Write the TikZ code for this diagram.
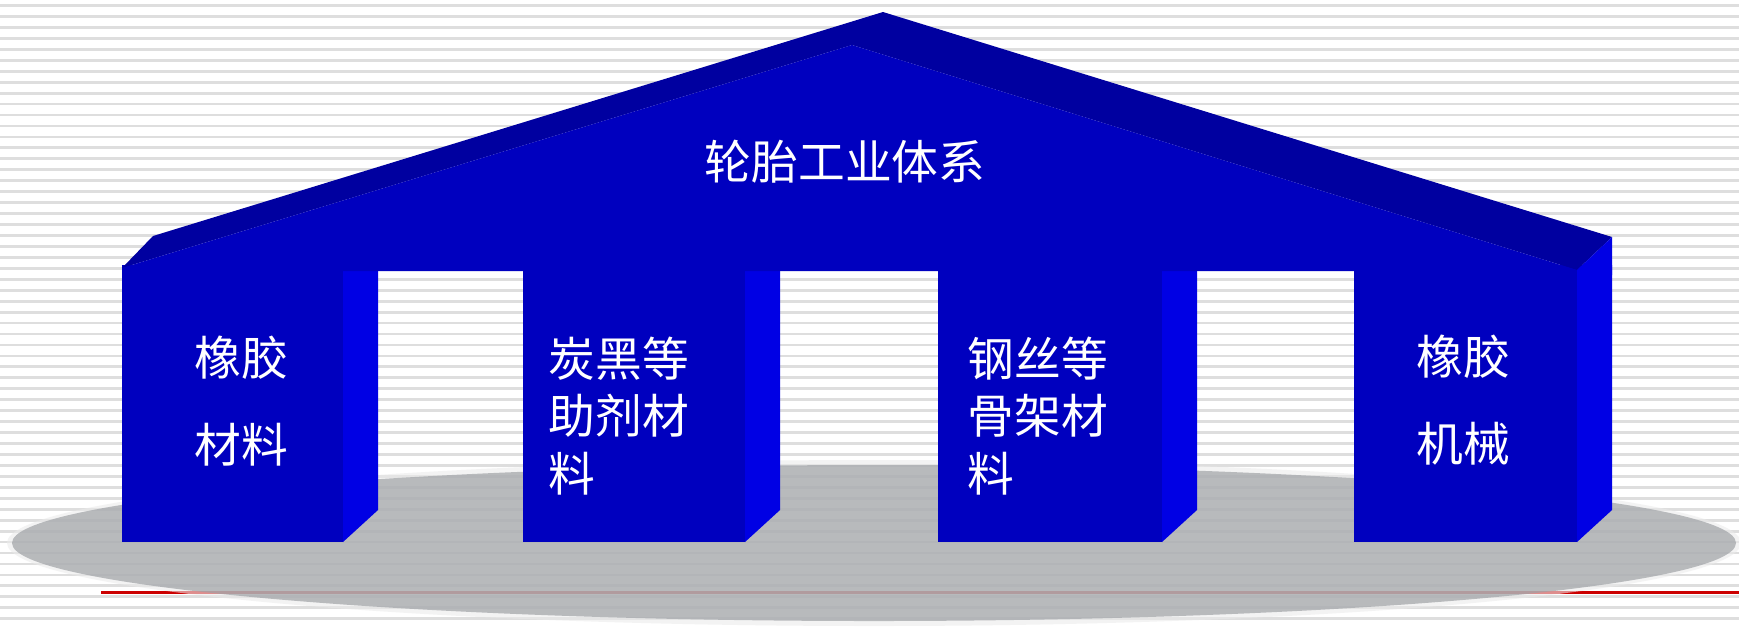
\documentclass[tikz,border=0pt]{standalone}
\usepackage{fontspec}
\newfontfamily\cjkfont{Noto Sans CJK SC}
\usepackage{tikz}
\usetikzlibrary{calc, positioning}

\definecolor{frontblue}{RGB}{0,0,191}
\definecolor{topblue}{RGB}{0,0,160}
\definecolor{sideblue}{RGB}{0,0,228}
\definecolor{groundgray}{RGB}{159,162,166}
\definecolor{stripegray}{RGB}{222,222,222}
\definecolor{linered}{RGB}{204,0,0}

\begin{document}
\begin{tikzpicture}[x=0.01cm, y=-0.01cm,% picture in pixel units, y down
  stripe/.style = {draw=stripegray, line width=0.8pt},
  ground/.style = {fill=groundgray, opacity=0.7},
    halo/.style = {fill=black!8, opacity=0.6},
 front face/.style = {fill=frontblue},
   top face/.style = {fill=topblue},
  side face/.style = {fill=sideblue},
 title text/.style = {text=white, inner sep=0pt,
                      font=\cjkfont\fontsize{13.3pt}{16pt}\selectfont},
pillar text/.style = {text=white, inner sep=0pt, anchor=west, align=left,
                      font=\cjkfont\fontsize{13.3pt}{#1}\selectfont}
                    ]
    \useasboundingbox (0,0) rectangle (1739,626);
    \fill[white] (0,0) rectangle (1739,626);

    % striped background
    \foreach \y in {5.5,16.45,...,626}
        \draw[stripe] (0,\y) -- (1739,\y);

    % base line and ground
    \coordinate (line start) at (101,592);
    \coordinate (line end)   at (1739,592);
    \draw[linered, line width=0.85pt] (line start) -- (line end);
    \coordinate (G) at (874,543);
    \fill[halo]   (G) ellipse [x radius=867, y radius=83];
    \fill[ground] (G) ellipse [x radius=862, y radius=78];

    % pillars: left x / right x of front face
    \foreach \xl/\xr in {122/343, 523/745, 938/1162, 1354/1577}
    {
        \fill[side face] (\xr,265) -- (\xr+35,265) -- (\xr+35,510)
                         -- (\xr,542) -- cycle;
        \fill[front face] (\xl,265) rectangle (\xr,542);
    }

    % roof
    \coordinate (peak)  at (883,12);
    \coordinate (apex)  at (852,45);
    \fill[top face] (122,268) -- (153,236) -- (peak) -- (1612,237)
                    -- (1577,270) -- (apex) -- cycle;
    \fill[front face] (122,271) -- (122,268) -- (apex) -- (1577,270)
                      -- (1577,271) -- cycle;
    \fill[side face] (1577,270) -- (1612,237) -- (1612,275)
                     -- (1577,275) -- cycle;

    % texts
    \node[title text] (title) at (845,162) {轮胎工业体系};
    \node[pillar text=24.9pt] (rubber)  at (194,401)
        {橡胶\\材料};
    \node[pillar text=16.35pt] (carbon) at (548,416)
        {炭黑等\\助剂材\\料};
    \node[pillar text=16.35pt] (steel)  at (967,416)
        {钢丝等\\骨架材\\料};
    \node[pillar text=24.9pt] (machine) at (1416,400)
        {橡胶\\机械};
\end{tikzpicture}
\end{document}
